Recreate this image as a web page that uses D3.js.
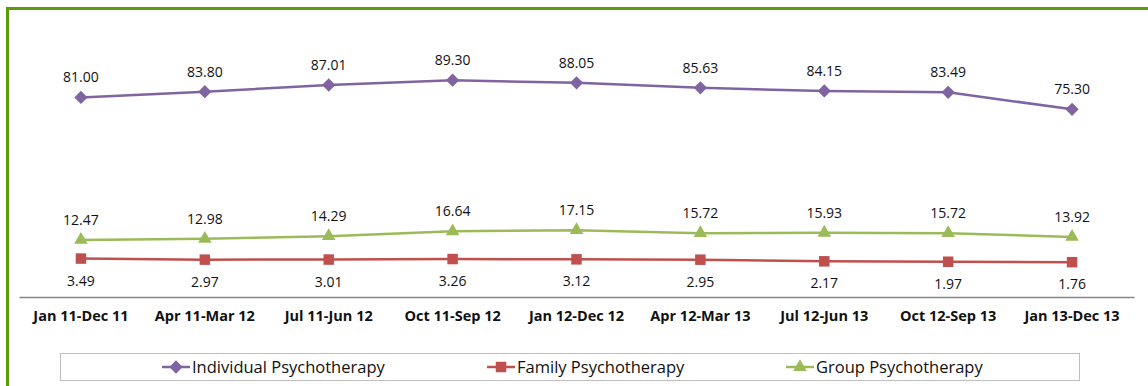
<!DOCTYPE html>
<html>
<head>
<meta charset="utf-8">
<script src="https://cdn.jsdelivr.net/npm/d3@7"></script>
<style>
  html, body { margin: 0; padding: 0; background: #fff; }
  svg { display: block; }
</style>
</head>
<body>
<svg id="chart" width="1148" height="386"></svg>
<script>
// Reporting periods (rolling 12-month windows)
const periods = ["Jan 11-Dec 11", "Apr 11-Mar 12", "Jul 11-Jun 12", "Oct 11-Sep 12",
  "Jan 12-Dec 12", "Apr 12-Mar 13", "Jul 12-Jun 13", "Oct 12-Sep 13", "Jan 13-Dec 13"];

const individual = [81.00, 83.80, 87.01, 89.30, 88.05, 85.63, 84.15, 83.49, 75.30];
const family     = [3.49, 2.97, 3.01, 3.26, 3.12, 2.95, 2.17, 1.97, 1.76];
const group      = [12.47, 12.98, 14.29, 16.64, 17.15, 15.72, 15.93, 15.72, 13.92];

const seriesNames = ["Individual Psychotherapy", "Family Psychotherapy", "Group Psychotherapy"];

const series = [
  { name: seriesNames[0], values: individual, color: "#8064a2", symbol: "diamond", labelPos: "above" },
  { name: seriesNames[1], values: family,     color: "#c0504d", symbol: "square",  labelPos: "below" },
  { name: seriesNames[2], values: group,      color: "#9bbb59", symbol: "triangle", labelPos: "above" }
];

const svg = d3.select("#chart");
const font = "'Open Sans', 'Liberation Sans', Arial, sans-serif";

// Outer green frame
svg.append("rect")
  .attr("x", 7.5).attr("y", 8.5)
  .attr("width", 1160).attr("height", 400)
  .attr("fill", "none")
  .attr("stroke", "#5b9a0a")
  .attr("stroke-width", 3);

const x = d3.scaleBand().domain(periods).range([19, 1134]);
const y = d3.scaleLinear().domain([-15, 100]).range([297, 58]);

// Category axis
const xAxis = svg.append("g")
  .attr("transform", `translate(0,${y(-15)})`)
  .call(d3.axisBottom(x).tickSize(0).tickPadding(14));
xAxis.select(".domain").attr("stroke", "#868686").attr("stroke-width", 1.5);
xAxis.selectAll("text")
  .attr("font-family", font)
  .attr("font-weight", "bold")
  .attr("font-size", 14.5)
  .attr("fill", "#111");

const cx = d => x(d) + x.bandwidth() / 2;

// Marker shapes: diamond is a square turned 45 degrees
const markerPath = {
  diamond: d3.symbol().type(d3.symbolSquare).size(88)(),
  square: d3.symbol().type(d3.symbolSquare).size(110)(),
  triangle: d3.symbol().type(d3.symbolTriangle).size(80)()
};
const markerRotate = { diamond: 45, square: 0, triangle: 0 };

series.forEach(s => {
  const g = svg.append("g");
  const line = d3.line().x((v, i) => cx(periods[i])).y(v => y(v));
  g.append("path")
    .datum(s.values)
    .attr("d", line)
    .attr("fill", "none")
    .attr("stroke", s.color)
    .attr("stroke-width", 2.5);

  g.selectAll("path.marker")
    .data(s.values)
    .join("path")
    .attr("class", "marker")
    .attr("transform", (v, i) => `translate(${cx(periods[i])},${y(v)}) rotate(${markerRotate[s.symbol]})`)
    .attr("d", markerPath[s.symbol])
    .attr("fill", s.color);

  g.selectAll("text")
    .data(s.values)
    .join("text")
    .attr("x", (v, i) => cx(periods[i]))
    .attr("y", v => s.labelPos === "above" ? y(v) - 15 : y(v) + 27)
    .attr("text-anchor", "middle")
    .attr("font-family", font)
    .attr("font-size", 14)
    .attr("fill", "#111")
    .text(v => v.toFixed(2));
});

// Legend
const legend = svg.append("g");
legend.append("rect")
  .attr("x", 60.5).attr("y", 353.5)
  .attr("width", 1019).attr("height", 27)
  .attr("fill", "#fff")
  .attr("stroke", "#bfbfbf");

const legendX = [162, 487, 786];
series.forEach((s, i) => {
  const lg = legend.append("g").attr("transform", `translate(${legendX[i]},367)`);
  lg.append("line").attr("x1", 0).attr("x2", 28).attr("y1", 0).attr("y2", 0)
    .attr("stroke", s.color).attr("stroke-width", 2.5);
  lg.append("path")
    .attr("transform", `translate(14,0) rotate(${markerRotate[s.symbol]})`)
    .attr("d", markerPath[s.symbol])
    .attr("fill", s.color);
  lg.append("text")
    .attr("x", 30).attr("y", 6)
    .attr("font-family", font)
    .attr("font-size", 16.5)
    .attr("fill", "#111")
    .text(s.name);
});
</script>
</body>
</html>
